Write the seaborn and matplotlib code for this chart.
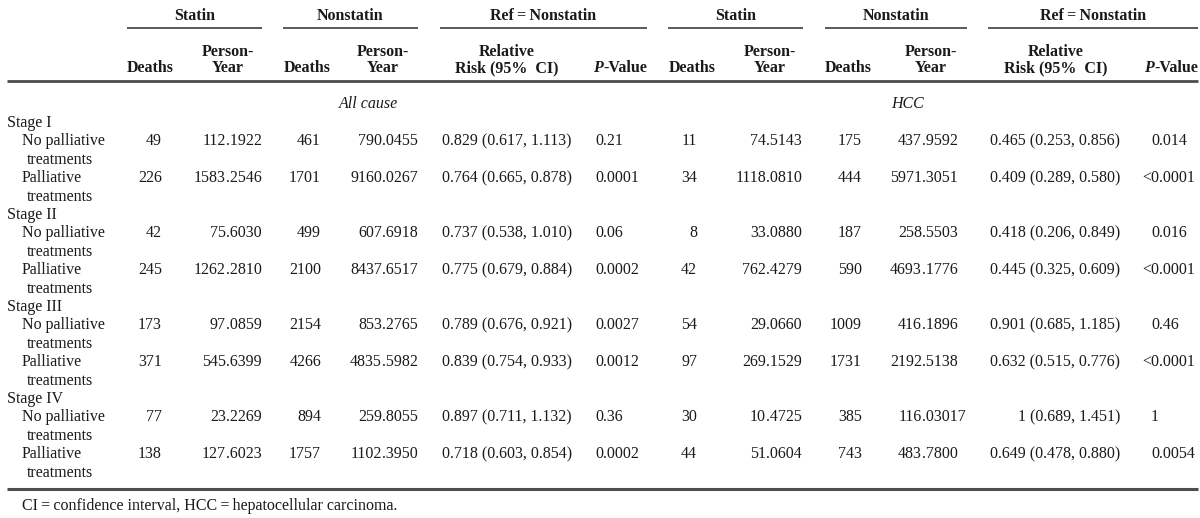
import numpy as np
import pandas as pd
import matplotlib
matplotlib.use("Agg")
import matplotlib.pyplot as plt
import seaborn as sns

# -----------------------------
# Table data
# -----------------------------

stages = ["Stage I", "Stage II", "Stage III", "Stage IV"]
treat_first = ["No palliative", "Palliative"]
treat_second = ["treatments", "treatments"]

all_statin_deaths = ["49", "226", "42", "245", "173", "371", "77", "138"]
all_statin_py = ["112.1922", "1583.2546", "75.6030", "1262.2810",
                 "97.0859", "545.6399", "23.2269", "127.6023"]
all_non_deaths = ["461", "1701", "499", "2100", "2154", "4266", "894", "1757"]
all_non_py = ["790.0455", "9160.0267", "607.6918", "8437.6517",
              "853.2765", "4835.5982", "259.8055", "1102.3950"]
all_rr = ["0.829 (0.617, 1.113)", "0.764 (0.665, 0.878)",
          "0.737 (0.538, 1.010)", "0.775 (0.679, 0.884)",
          "0.789 (0.676, 0.921)", "0.839 (0.754, 0.933)",
          "0.897 (0.711, 1.132)", "0.718 (0.603, 0.854)"]
all_p = ["0.21", "0.0001", "0.06", "0.0002", "0.0027", "0.0012", "0.36", "0.0002"]

hcc_statin_deaths = ["11", "34", "8", "42", "54", "97", "30", "44"]
hcc_statin_py = ["74.5143", "1118.0810", "33.0880", "762.4279",
                 "29.0660", "269.1529", "10.4725", "51.0604"]
hcc_non_deaths = ["175", "444", "187", "590", "1009", "1731", "385", "743"]
hcc_non_py = ["437.9592", "5971.3051", "258.5503", "4693.1776",
              "416.1896", "2192.5138", "116.03017", "483.7800"]
hcc_rr = ["0.465 (0.253, 0.856)", "0.409 (0.289, 0.580)",
          "0.418 (0.206, 0.849)", "0.445 (0.325, 0.609)",
          "0.901 (0.685, 1.185)", "0.632 (0.515, 0.776)",
          "1 (0.689, 1.451)", "0.649 (0.478, 0.880)"]
hcc_p = ["0.014", "<0.0001", "0.016", "<0.0001", "0.46", "<0.0001", "1", "0.0054"]

group_labels = ["Statin", "Nonstatin", "Ref\u2009=\u2009Nonstatin"]
section_labels = ["All cause", "HCC"]
footnote = "CI\u2009=\u2009confidence interval, HCC\u2009=\u2009hepatocellular carcinoma."

# -----------------------------
# Style
# -----------------------------

sns.set_theme(style="white")
plt.rcParams['font.family'] = ['Liberation Serif', 'DejaVu Serif']

FS = 11.5
INK = "#1a1a1a"
RULE = "#4d4d4d"

fig = plt.figure(figsize=(12, 5.18), dpi=100)
ax = fig.add_axes([0, 0, 1, 1])
ax.set_xlim(0, 1200)
ax.set_ylim(518, 0)
ax.set_axis_off()
sns.despine(ax=ax, left=True, bottom=True)

BASE = 5.5  # centre -> baseline offset


def txt(x, y, s, ha="left", **kw):
    ax.text(x, y + BASE, s, ha=ha, va="baseline", fontsize=FS, color=INK, **kw)


def dec_txt(x, y, s):
    # decimal aligned cell
    if "." in s:
        left, right = s.split(".", 1)
        txt(x, y, left, ha="right")
        txt(x, y, "." + right, ha="left")
    else:
        txt(x, y, s, ha="right")


# -----------------------------
# Header
# -----------------------------

blocks = [
    # (statin line, nonstatin line, ref line)
    [(127, 262), (283, 418), (440, 647)],
    [(668, 803), (825, 967), (988, 1198)],
]
sub_x = [
    dict(d1=150, py1=228, d2=307, py2=383, rr=507, p=620),
    dict(d1=692, py1=770, d2=848, py2=931, rr=1056, p=1171),
]

for lines, sx in zip(blocks, sub_x):
    for (x0, x1), lab in zip(lines, group_labels):
        ax.plot([x0, x1], [28, 28], color=RULE, lw=1.3, solid_capstyle="butt")
        txt((x0 + x1) / 2, 14, lab, ha="center", fontweight="bold")
    txt(sx["d1"], 67, "Deaths", ha="center", fontweight="bold")
    txt(sx["d2"], 67, "Deaths", ha="center", fontweight="bold")
    for key in ["py1", "py2"]:
        txt(sx[key], 50, "Person-", ha="center", fontweight="bold")
        txt(sx[key], 67, "Year", ha="center", fontweight="bold")
    txt(sx["rr"], 50, "Relative", ha="center", fontweight="bold")
    txt(sx["rr"], 67, "Risk (95%  CI)", ha="center", fontweight="bold")
    px = sx["p"] - 27
    txt(px, 67, "P", ha="left", fontweight="bold", fontstyle="italic")
    txt(px + 10, 67, "-Value", ha="left", fontweight="bold")

ax.plot([7, 1198], [81, 81], color=RULE, lw=2.0, solid_capstyle="butt")

txt(369, 103, section_labels[0], ha="center", fontstyle="italic")
txt(908, 103, section_labels[1], ha="center", fontstyle="italic")

# -----------------------------
# Body
# -----------------------------

y0 = 121.5
step = 18.4

columns = [
    (all_statin_deaths, "right", 162),
    (all_statin_py, "dec", 226),
    (all_non_deaths, "right", 321),
    (all_non_py, "dec", 382),
    (all_rr, "right", 572),
    (all_p, "dec", 603),
    (hcc_statin_deaths, "right", 697),
    (hcc_statin_py, "dec", 766),
    (hcc_non_deaths, "right", 862),
    (hcc_non_py, "dec", 922),
    (hcc_rr, "right", 1120),
    (hcc_p, "dec", 1159),
]

for i, stage in enumerate(stages):
    ys = y0 + 5 * i * step
    txt(7, ys, stage)
    for j in range(2):
        row = 2 * i + j
        yr = ys + (1 + 2 * j) * step
        txt(22, yr, treat_first[j])
        txt(27, yr + step, treat_second[j])
        for vals, kind, x in columns:
            if kind == "dec":
                dec_txt(x, yr, vals[row])
            else:
                txt(x, yr, vals[row], ha=kind)

ax.plot([7, 1198], [489, 489], color=RULE, lw=2.2, solid_capstyle="butt")
txt(22, 505, footnote)

fig.savefig("out.png", dpi=100)
